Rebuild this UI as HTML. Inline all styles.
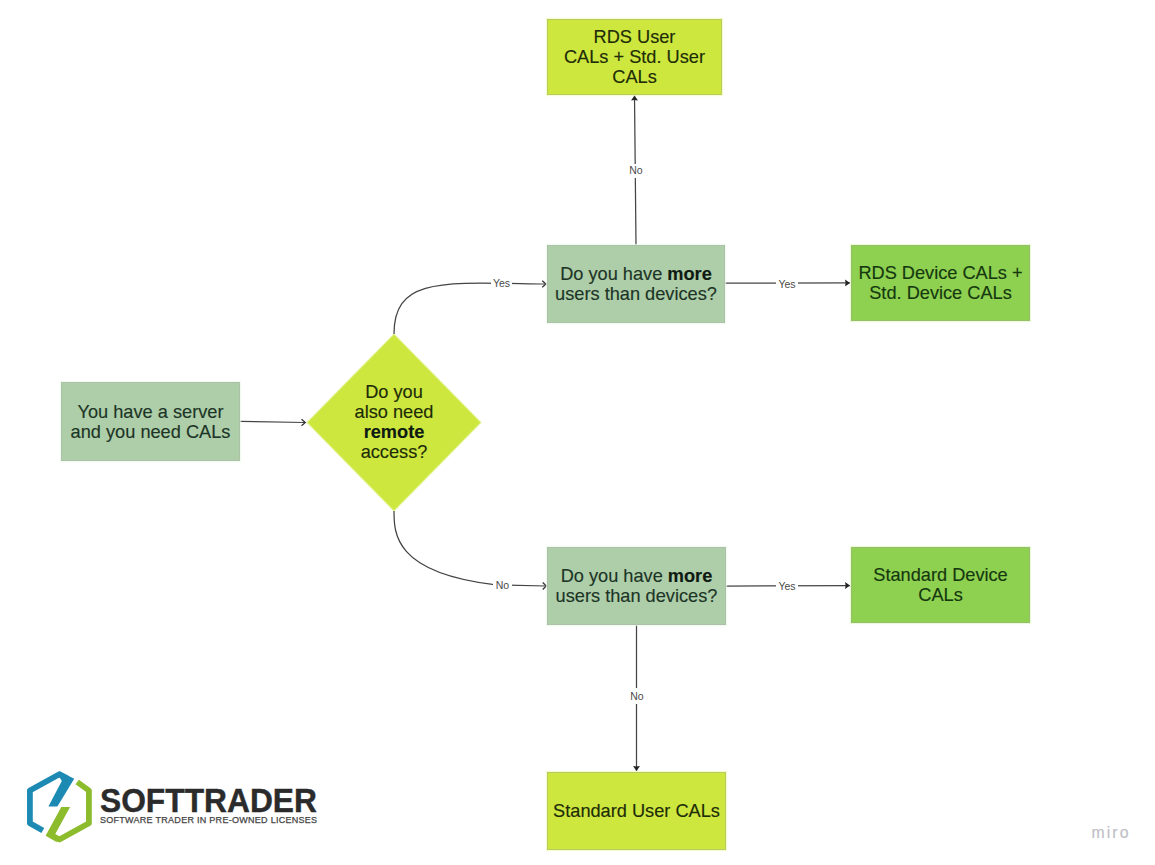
<!DOCTYPE html>
<html><head><meta charset="utf-8">
<style>
html,body{margin:0;padding:0;background:#ffffff;width:1155px;height:865px;overflow:hidden;}
body{position:relative;font-family:"Liberation Sans",sans-serif;}
.b{position:absolute;display:flex;align-items:center;justify-content:center;text-align:center;
  font-size:18.2px;line-height:20px;color:#1d2c22;box-sizing:border-box;}
.lime{background:#cde73e;color:#1e2c08;box-shadow:inset 0 0 0 1px rgba(165,175,130,0.5),0 0 1px 1px rgba(240,252,190,0.7);}
.sage{background:#aecea9;color:#1c3426;box-shadow:inset 0 0 0 1px rgba(170,180,165,0.5),0 0 1px 1px rgba(235,250,235,0.7);}
.grn{background:#8ed04f;color:#15380f;box-shadow:inset 0 0 0 1px rgba(165,170,140,0.5),0 0 1px 1px rgba(225,250,200,0.7);}
.b b{font-weight:bold;color:#0e1a12;}
.b span{-webkit-text-stroke:0.15px currentColor;}
svg{position:absolute;left:0;top:0;}
.lbl{position:absolute;font-size:10.5px;line-height:12px;color:#4a4a4a;background:#fff;text-align:center;padding:2px 0;}
</style></head><body>

<svg width="1155" height="865" viewBox="0 0 1155 865">
  <defs>
    <marker id="fa" viewBox="0 0 10 14" refX="10" refY="7" markerWidth="5.5" markerHeight="7" markerUnits="userSpaceOnUse" orient="auto">
      <path d="M0,0 L10,7 L0,14 L1.2,7 z" fill="#222"/>
    </marker>
  </defs>
  <!-- diamond -->
  <polygon points="394,334 481,422.5 394,511 307,422.5" fill="#cde73e" stroke="rgba(225,245,150,0.55)" stroke-width="1.5"/>
  <g fill="none" stroke="#444" stroke-width="1.25">
    <!-- server -> diamond -->
    <path d="M240,421.4 L305,422.5"/>
    <path d="M301.5,419.3 L305.3,422.5 L301.5,425.7" stroke="#333"/>
    <!-- diamond top curve -->
    <path d="M394,334 C394,276 444,282.5 546,284"/>
    <path d="M542.2,280.8 L546,284 L542.2,287.2" stroke="#333"/>
    <!-- diamond bottom curve -->
    <path d="M394,511 C394,533 394,572 492.5,584.3 L500,585 M500,585 L546,586"/>
    <path d="M542.7,582.5 L546.3,586 L542.7,589.5" stroke="#333"/>
    <!-- box2 top -> box1 -->
    <path d="M636,245 L634.5,95.5" marker-end="url(#fa)"/>
    <!-- box2 right -> box3 -->
    <path d="M725,283.2 L850,282.9" marker-end="url(#fa)"/>
    <!-- box6 right -> box7 -->
    <path d="M726,586 L850,585.5" marker-end="url(#fa)"/>
    <!-- box6 bottom -> box8 -->
    <path d="M636.5,625 L636.5,771" marker-end="url(#fa)"/>
  </g>
</svg>

<div class="b lime" style="left:547px;top:19px;width:175px;height:76px;"><span>RDS User<br>CALs + Std. User<br>CALs</span></div>
<div class="b sage" style="left:547px;top:245px;width:178px;height:78px;"><span>Do you have <b>more</b><br>users than devices?</span></div>
<div class="b grn" style="left:851px;top:245px;width:179px;height:76px;"><span>RDS Device CALs +<br>Std. Device CALs</span></div>
<div class="b sage" style="left:61px;top:382px;width:179px;height:79px;"><span>You have a server<br>and you need CALs</span></div>
<div class="b" style="color:#1e2c08;left:307px;top:333px;width:174px;height:177px;"><span>Do you<br>also need<br><b>remote</b><br>access?</span></div>
<div class="b sage" style="left:547px;top:547px;width:179px;height:78px;"><span>Do you have <b>more</b><br>users than devices?</span></div>
<div class="b grn" style="left:851px;top:547px;width:179px;height:76px;"><span>Standard Device<br>CALs</span></div>
<div class="b lime" style="left:547px;top:772px;width:179px;height:78px;"><span>Standard User CALs</span></div>

<div class="lbl" style="left:626px;top:163.7px;width:20px;padding:0.8px 0 1.6px;">No</div>
<div class="lbl" style="left:776px;top:276px;width:22px;">Yes</div>
<div class="lbl" style="left:491px;top:275px;width:21px;">Yes</div>
<div class="lbl" style="left:493px;top:577px;width:19px;">No</div>
<div class="lbl" style="left:776px;top:578px;width:22px;">Yes</div>
<div class="lbl" style="left:627px;top:687.5px;width:20px;padding:2px 0 2px;">No</div>

<svg width="1155" height="865" viewBox="0 0 1155 865">
  <g>
    <polyline fill="none" stroke="#1d8ab4" stroke-width="5.8" stroke-linejoin="round" points="42.8,830.6 29.9,823.2 29.9,790.5 59.4,774.2 67,778.4"/>
    <polygon fill="#1d8ab4" points="59.4,771.3 74.2,778.7 57.4,806.4 48.4,806.4 61.8,781 59.4,777.1"/>
    <polyline fill="none" stroke="#8cbb2c" stroke-width="5.8" stroke-linejoin="round" points="77.2,782 88.9,790.5 88.9,823.2 59.4,839.5 51,835"/>
    <polygon fill="#8cbb2c" points="61.3,807.1 70.1,807.1 55,834.5 57,842.2 45.6,835.8"/>
  </g>
</svg>
<div style="position:absolute;left:100px;top:780.5px;font-weight:bold;font-size:33px;line-height:40px;color:#2b2b2b;-webkit-text-stroke:0.4px #2b2b2b;transform-origin:0 0;transform:scaleX(0.962);">SOFTTRADER</div>
<div style="position:absolute;left:100px;top:814px;font-size:9px;line-height:12px;letter-spacing:0.28px;color:#444;-webkit-text-stroke:0.25px #444;">SOFTWARE TRADER IN PRE-OWNED LICENSES</div>
<div style="position:absolute;left:1091.5px;top:821.8px;font-size:15.8px;line-height:22px;letter-spacing:2.1px;color:#bfbfc8;-webkit-text-stroke:0.2px #bfbfc8;">miro</div>

</body></html>
